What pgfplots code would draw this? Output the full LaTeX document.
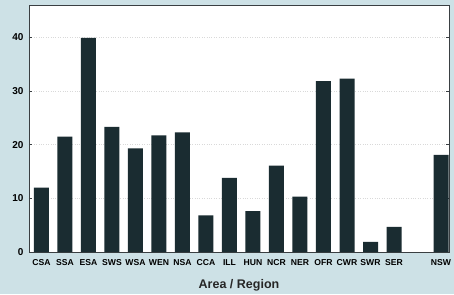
\documentclass[border=0pt]{standalone}
\usepackage{pgfplots}
\pgfplotsset{compat=1.18}
\usepackage{fontspec}
\setmainfont{Liberation Sans}
\definecolor{bgc}{HTML}{CDE1E6}
\definecolor{barc}{HTML}{1A2C31}
\definecolor{framec}{HTML}{3A3F42}
\begin{document}
\begin{tikzpicture}[x=1pt,y=1pt]
\fill[bgc] (-29,-42) rectangle (425,247+5);
\useasboundingbox (-29,-42) rectangle (425,252);
\begin{axis}[
  at={(0,0)}, anchor=south west,
  scale only axis, width=420pt, height=247pt,
  axis background/.style={fill=white},
  axis line style={framec, line width=0.8pt},
  xmin=-0.53, xmax=17.34,
  ymin=0, ymax=46,
  xtick={0,1,2,3,4,5,6,7,8,9,10,11,12,13,14,15,17},
  xticklabels={CSA,SSA,ESA,SWS,WSA,WEN,NSA,CCA,ILL,HUN,NCR,NER,OFR,CWR,SWR,SER,NSW},
  x tick label style={font=\fontsize{8.6}{9}\selectfont\bfseries, inner xsep=0pt, yshift=-1pt},
  major x tick style={draw=none},
  ytick={0,10,20,30,40},
  y tick label style={font=\fontsize{10}{11}\selectfont\bfseries, xshift=-2pt},
  /pgf/number format/assume math mode=true,
  tick align=inside, tick style={framec, line width=0.5pt}, major tick length=3pt,
  ymajorgrids, grid style={gray!30, dotted, line width=0.6pt},
  xlabel={Area / Region},
  xlabel style={font=\fontsize{12.5}{14}\selectfont\bfseries, color=black!85, yshift=-7pt},
  ybar, bar width=15pt,
]
\addplot[fill=barc, draw=none] coordinates {
(0,12.0) (1,21.5) (2,39.9) (3,23.3) (4,19.3) (5,21.7) (6,22.3) (7,6.8)
(8,13.8) (9,7.6) (10,16.1) (11,10.3) (12,31.8) (13,32.3) (14,1.9) (15,4.7) (17,18.1)
};
\end{axis}
\end{tikzpicture}
\end{document}
